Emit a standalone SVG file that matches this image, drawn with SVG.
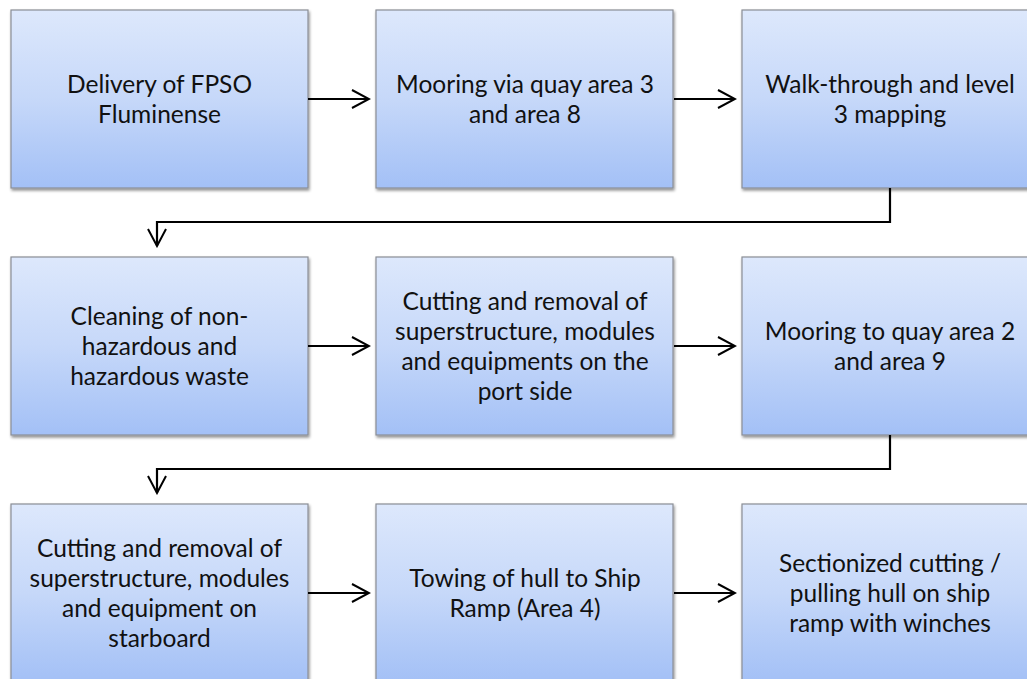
<svg xmlns="http://www.w3.org/2000/svg" width="1027" height="679" viewBox="0 0 1027 679">
<defs>
<linearGradient id="g" x1="0" y1="0" x2="0" y2="1">
<stop offset="0" stop-color="#dde8fc"/>
<stop offset="0.5" stop-color="#c6d8f9"/>
<stop offset="1" stop-color="#a3c0f6"/>
</linearGradient>
<filter id="sh" x="-5%" y="-5%" width="110%" height="115%">
<feGaussianBlur in="SourceAlpha" stdDeviation="1.5"/>
<feOffset dx="1" dy="2" result="b"/>
<feComponentTransfer><feFuncA type="linear" slope="0.45"/></feComponentTransfer>
<feMerge><feMergeNode/><feMergeNode in="SourceGraphic"/></feMerge>
</filter>
<marker id="ah" viewBox="0 0 20 20" refX="18" refY="10" markerWidth="20" markerHeight="20" markerUnits="userSpaceOnUse" orient="auto">
<path d="M1,1 L18,10 L1,19" fill="none" stroke="#000" stroke-width="2"/>
</marker>
</defs>
<style>
.box{fill:url(#g);stroke:#8a8e96;stroke-width:1.2;filter:url(#sh)}
text{font-family:Lato,"Open Sans","Liberation Sans",sans-serif;font-size:24.5px;fill:#111;text-anchor:middle}
.c{fill:none;stroke:#000;stroke-width:2.2}
</style>
<g id="n1"><rect class="box" x="11" y="10" width="297" height="178"/><text x="159.5" y="93">Delivery of FPSO</text><text x="159.5" y="123">Fluminense</text></g>
<g id="n2"><rect class="box" x="376" y="10" width="297" height="178"/><text x="525" y="93">Mooring via quay area 3</text><text x="525" y="123">and area 8</text></g>
<g id="n3"><rect class="box" x="742" y="10" width="297" height="178"/><text x="890" y="93">Walk-through and level</text><text x="890" y="123">3 mapping</text></g>
<g id="n4"><rect class="box" x="11" y="257" width="297" height="178"/><text x="159.5" y="325">Cleaning of non-</text><text x="159.5" y="355">hazardous and</text><text x="159.5" y="385">hazardous waste</text></g>
<g id="n5"><rect class="box" x="376" y="257" width="297" height="178"/><text x="525" y="310">Cutting and removal of</text><text x="525" y="340">superstructure, modules</text><text x="525" y="370">and equipments on the</text><text x="525" y="400">port side</text></g>
<g id="n6"><rect class="box" x="742" y="257" width="297" height="178"/><text x="890" y="340">Mooring to quay area 2</text><text x="890" y="370">and area 9</text></g>
<g id="n7"><rect class="box" x="11" y="504" width="297" height="178"/><text x="159.5" y="557">Cutting and removal of</text><text x="159.5" y="587">superstructure, modules</text><text x="159.5" y="617">and equipment on</text><text x="159.5" y="647">starboard</text></g>
<g id="n8"><rect class="box" x="376" y="504" width="297" height="178"/><text x="525" y="587">Towing of hull to Ship</text><text x="525" y="617">Ramp (Area 4)</text></g>
<g id="n9"><rect class="box" x="742" y="504" width="297" height="178"/><text x="890" y="572">Sectionized cutting /</text><text x="890" y="602">pulling hull on ship</text><text x="890" y="632">ramp with winches</text></g>
<g id="connectors">
<path class="c" d="M308,99 H369" marker-end="url(#ah)"/>
<path class="c" d="M674,99 H735" marker-end="url(#ah)"/>
<path class="c" d="M890,188 V222 H157 V246" marker-end="url(#ah)"/>
<path class="c" d="M308,346 H369" marker-end="url(#ah)"/>
<path class="c" d="M674,346 H735" marker-end="url(#ah)"/>
<path class="c" d="M890,435 V469 H157 V493" marker-end="url(#ah)"/>
<path class="c" d="M308,593 H369" marker-end="url(#ah)"/>
<path class="c" d="M674,593 H735" marker-end="url(#ah)"/>
</g>
</svg>
